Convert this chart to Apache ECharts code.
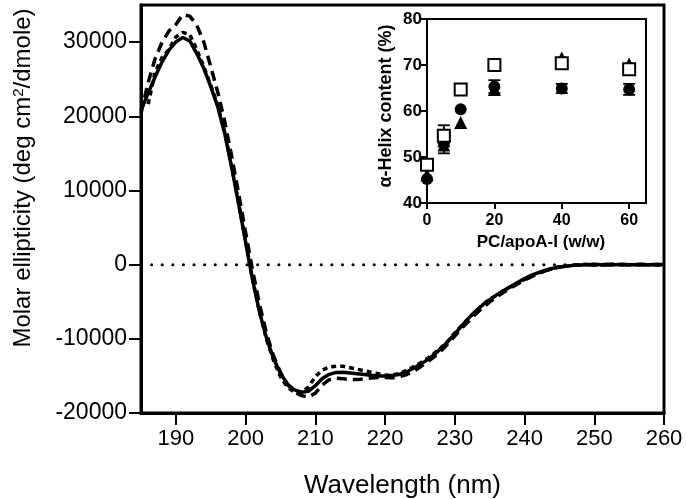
<!DOCTYPE html>
<html>
<head>
<meta charset="utf-8">
<script src="https://cdn.jsdelivr.net/npm/echarts@6/dist/echarts.min.js"></script>
<style>
html,body{margin:0;padding:0;background:#fff;}
#chart{width:686px;height:499px;}
</style>
</head>
<body>
<div id="chart"></div>
<script>
// CD spectra, 185-260 nm, 1 nm steps
var wavelength = [185,186,187,188,189,190,191,192,193,194,195,196,197,198,199,200,201,202,203,204,205,206,207,208,209,210,
	211,212,213,214,215,216,217,218,219,220,221,222,223,224,225,226,227,228,229,230,231,232,233,234,235,
	236,237,238,239,240,241,242,243,244,245,246,247,248,249,250,251,252,253,254,255,256,257,258,259,260];
var solidCurve = [20800,23050,25250,27300,28900,30030,30620,30160,28450,26460,24000,21300,17680,13120,8180,3050,-2050,-6400,-9910,-12630,
	-14680,-16090,-16880,-17200,-17070,-16320,-15350,-14790,-14530,-14500,-14600,-14700,-14810,-14920,-15000,-15000,-14960,-14810,-14500,-14010,
	-13480,-12870,-12160,-11330,-10390,-9330,-8260,-7210,-6260,-5440,-4720,-4080,-3490,-2950,-2420,-1880,-1420,-1070,-750,-520,
	-310,-200,-100,-40,0,50,0,-50,0,50,0,0,-50,0,50,0];
var longDash = [20400,24470,27700,29940,31490,32370,33700,33500,32270,30030,26690,23260,19320,14630,9580,4350,-760,-5360,-9270,-12280,
	-14540,-16170,-17170,-17660,-17860,-17320,-16210,-15510,-15320,-15390,-15500,-15500,-15390,-15280,-15200,-15230,-15260,-15110,-14850,-14420,
	-13820,-13170,-12460,-11630,-10690,-9630,-8560,-7610,-6660,-5820,-5020,-4380,-3740,-3150,-2620,-2090,-1620,-1200,-850,-530,
	-310,-200,-90,-50,0,-50,0,50,0,0,-50,0,50,0,0,-50];
var shortDash = [22000,21500,25900,27900,29000,30700,31300,31000,29000,26700,24200,21500,17900,13300,8300,3150,-2000,-6400,-10100,-12900,
	-15100,-16500,-17200,-17200,-16500,-15100,-14200,-13800,-13700,-13700,-13900,-14100,-14300,-14500,-14700,-14900,-14850,-14700,-14300,-13800,
	-13300,-12700,-12000,-11200,-10300,-9200,-8200,-7200,-6300,-5400,-4700,-4100,-3500,-3000,-2500,-2000,-1500,-1100,-800,-500,
	-300,-200,-100,0,50,0,-50,0,50,0,0,50,0,0,-50,0];

var xTicks = [190,200,210,220,230,240,250,260];
var yTicks = [-20000,-10000,0,10000,20000,30000];

// inset: helix content vs PC/apoA-I
var ratio = [0,5,10,20,40,60];
var helixSquare = [48.3,54.6,64.7,70.0,70.4,69.1];
var helixCircle = [45.2,53.0,60.4,65.3,64.9,64.7];
var helixTriangle = [46.1,52.6,57.5,64.7,71.5,70.2];
var errSquare = [0,2.3,0,0,0,0];
var errCircle = [0,0,0,1.4,1.0,1.2];
var errTriangle = [0,1.8,0,0,0,0];

var font = 'Arial, "Liberation Sans", sans-serif';

var pairs = function(xs, ys){
	var out = [];
	for(var i = 0; i < xs.length; i++){ out.push([xs[i], ys[i]]); }
	return out;
};
var errData = function(xs, ys, es){
	var out = [];
	for(var i = 0; i < xs.length; i++){
		if(es[i]){ out.push([xs[i], ys[i] - es[i], ys[i] + es[i]]); }
	}
	return out;
};
var renderErr = function(params, api){
	var lo = api.coord([api.value(0), api.value(1)]);
	var hi = api.coord([api.value(0), api.value(2)]);
	var w = 6, st = {stroke:'#000', lineWidth:1.8};
	return {type:'group', children:[
		{type:'line', shape:{x1:lo[0], y1:lo[1], x2:hi[0], y2:hi[1]}, style:st},
		{type:'line', shape:{x1:lo[0]-w, y1:lo[1], x2:lo[0]+w, y2:lo[1]}, style:st},
		{type:'line', shape:{x1:hi[0]-w, y1:hi[1], x2:hi[0]+w, y2:hi[1]}, style:st}
	]};
};
var curve = function(ys, dash){
	return {type:'line', xAxisIndex:0, yAxisIndex:0, data:pairs(wavelength, ys), showSymbol:false, symbol:'none',
		lineStyle:{color:'#000', width:3.5, type:dash}, animation:false, z:3};
};
var plain = function(v){ return String(v); };

var chart = echarts.init(document.getElementById('chart'), null, {renderer:'canvas'});
chart.setOption({
	animation:false,
	backgroundColor:'#fff',
	grid:[
		{left:141, top:5, width:523, height:408, show:true, borderColor:'#000', borderWidth:3, outerBoundsMode:'none', containLabel:false},
		{left:427, top:19, width:219, height:184, show:true, borderColor:'#000', borderWidth:2, outerBoundsMode:'none', containLabel:false}
	],
	xAxis:[
		{type:'value', gridIndex:0, min:185, max:260,
			name:'Wavelength (nm)', nameLocation:'middle', nameGap:60,
			nameTextStyle:{fontSize:26, fontFamily:font, color:'#000'},
			axisLine:{onZero:false, lineStyle:{color:'#000', width:3}},
			axisTick:{length:12, customValues:xTicks, lineStyle:{color:'#000', width:2}},
			axisLabel:{customValues:xTicks, formatter:plain, fontSize:22, fontFamily:font, color:'#000', margin:15},
			splitLine:{show:false}},
		{type:'value', gridIndex:1, min:0, max:65, interval:20,
			name:'PC/apoA-I (w/w)', nameLocation:'middle', nameGap:31,
			nameTextStyle:{fontSize:17, fontWeight:'bold', fontFamily:font, color:'#000', padding:[0,0,0,9]},
			axisLine:{onZero:false, lineStyle:{color:'#000', width:2}},
			axisTick:{length:6, lineStyle:{color:'#000', width:2}},
			axisLabel:{fontSize:16, fontWeight:'bold', fontFamily:font, color:'#000', margin:10, showMaxLabel:false},
			splitLine:{show:false}}
	],
	yAxis:[
		{type:'value', gridIndex:0, min:-20000, max:35000,
			name:'Molar ellipticity (deg cm{sup|2}/dmole)', nameLocation:'middle', nameGap:106,
			nameTextStyle:{fontSize:24, fontFamily:font, color:'#000', padding:[0,0,0,62],
				rich:{sup:{fontSize:15, fontFamily:font, color:'#000', verticalAlign:'top'}}},
			axisLine:{onZero:false, lineStyle:{color:'#000', width:3}},
			axisTick:{length:12, customValues:yTicks, lineStyle:{color:'#000', width:2}},
			axisLabel:{customValues:yTicks, formatter:plain, fontSize:23, fontFamily:font, color:'#000', margin:14},
			splitLine:{show:false}},
		{type:'value', gridIndex:1, min:40, max:80, interval:10,
			name:'\u03b1-Helix content (%)', nameLocation:'middle', nameGap:32,
			nameTextStyle:{fontSize:18, fontWeight:'bold', fontFamily:font, color:'#000', padding:[0,0,0,10]},
			axisLine:{onZero:false, lineStyle:{color:'#000', width:2}},
			axisTick:{length:7, lineStyle:{color:'#000', width:2}},
			axisLabel:{fontSize:17, fontWeight:'bold', fontFamily:font, color:'#000', margin:5},
			splitLine:{show:false}}
	],
	series:[
		{type:'line', xAxisIndex:0, yAxisIndex:0, data:[[185,0],[260,0]], symbol:'none',
			lineStyle:{color:'#000', width:3, type:[0.1,10.5], cap:'round'}, z:2},
		curve(solidCurve, 'solid'),
		curve(longDash, [10,6]),
		curve(shortDash, [5,4]),
		{type:'custom', xAxisIndex:1, yAxisIndex:1, data:errData(ratio, helixCircle, errCircle), renderItem:renderErr, encode:{x:0, y:[1,2]}, z:4},
		{type:'custom', xAxisIndex:1, yAxisIndex:1, data:errData(ratio, helixTriangle, errTriangle), renderItem:renderErr, encode:{x:0, y:[1,2]}, z:4},
		{type:'custom', xAxisIndex:1, yAxisIndex:1, data:errData(ratio, helixSquare, errSquare), renderItem:renderErr, encode:{x:0, y:[1,2]}, z:4},
		{type:'scatter', xAxisIndex:1, yAxisIndex:1, data:pairs(ratio, helixTriangle), symbol:'triangle', symbolSize:13,
			itemStyle:{color:'#000', opacity:1}, z:5},
		{type:'scatter', xAxisIndex:1, yAxisIndex:1, data:pairs(ratio, helixCircle), symbol:'circle', symbolSize:12,
			itemStyle:{color:'#000', opacity:1}, z:6},
		{type:'scatter', xAxisIndex:1, yAxisIndex:1, data:pairs(ratio, helixSquare), symbol:'rect', symbolSize:12,
			itemStyle:{color:'#fff', borderColor:'#000', borderWidth:2, opacity:1}, z:7}
	]
});
</script>
</body>
</html>
